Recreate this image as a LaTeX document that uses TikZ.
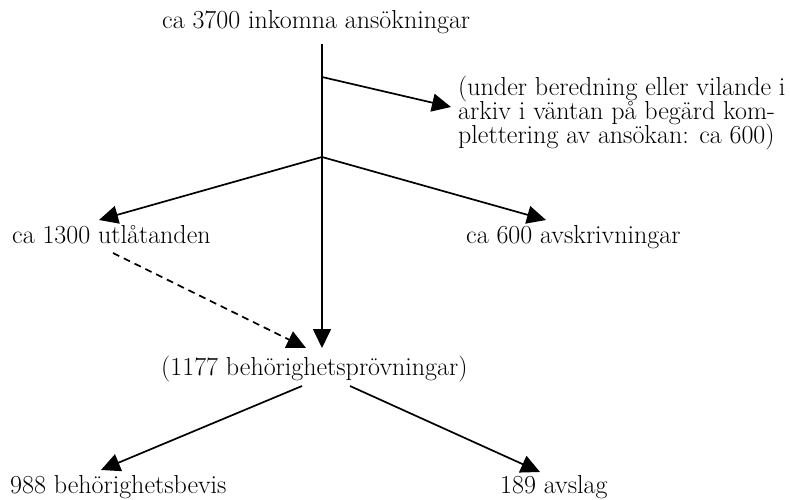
\documentclass[tikz,border=0pt]{standalone}
\usepackage{fontspec}
\usetikzlibrary{arrows.meta}
\begin{document}
\begin{tikzpicture}[x=1pt,y=-1pt,
  lbl/.style={anchor=base west, inner sep=0pt, font=\fontsize{26}{29}\selectfont},
  conn/.style={line width=1.7pt, -{Triangle[length=19pt,width=18pt]}},
  dconn/.style={conn, dash pattern=on 7pt off 5pt}]
\useasboundingbox (0,0) rectangle (790,500);
% texts
\node[lbl] (top) at (162,29) {ca 3700 inkomna ansökningar};
\node[lbl] (r1) at (458,96) {(under beredning eller vilande i};
\node[lbl] (r2) at (458,120) {arkiv i väntan på begärd kom-};
\node[lbl] (r3) at (458,144) {plettering av ansökan: ca 600)};
\node[lbl] (utl) at (12,243) {ca 1300 utlåtanden};
\node[lbl] (avs) at (466,243) {ca 600 avskrivningar};
\node[lbl] (beh) at (161,375) {(1177 behörighetsprövningar)};
\node[lbl] (bev) at (10,493) {988 behörighetsbevis};
\node[lbl] (afs) at (500,493) {189 avslag};
% junctions and arrow ends
\coordinate (vtop) at (322,44);
\coordinate (b1) at (322,77);
\coordinate (b2) at (322,157);
\coordinate (tr) at (451,107);
\coordinate (tl) at (99,220);
\coordinate (ta) at (546,220);
\coordinate (tv) at (322,348);
\coordinate (ds) at (113,253);
\coordinate (td) at (306,348);
\coordinate (bl) at (302,386);
\coordinate (br) at (350,386);
\coordinate (tb) at (101,470);
\coordinate (tf) at (540,472);
% connectors
\draw[conn] (vtop) -- (tv);
\draw[conn] (b1) -- (tr);
\draw[conn] (b2) -- (tl);
\draw[conn] (b2) -- (ta);
\draw[dconn] (ds) -- (td);
\draw[conn] (bl) -- (tb);
\draw[conn] (br) -- (tf);
\end{tikzpicture}
\end{document}
